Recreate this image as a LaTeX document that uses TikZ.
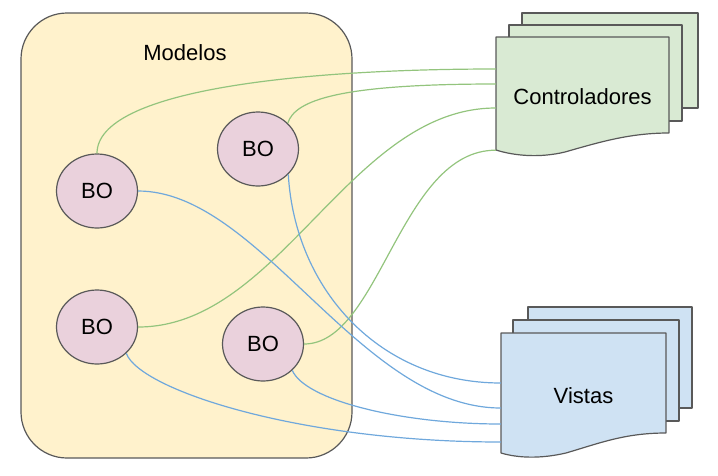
\documentclass[tikz,border=0pt]{standalone}
\usepackage{fontspec}
\setmainfont{Liberation Sans}
\usetikzlibrary{shapes.geometric}
\definecolor{modfill}{HTML}{FFF2CC}
\definecolor{bofill}{HTML}{EAD1DC}
\definecolor{ctrlfill}{HTML}{D9EAD3}
\definecolor{vistfill}{HTML}{CFE2F3}
\definecolor{ctrlline}{HTML}{93C47D}
\definecolor{vistline}{HTML}{6FA8DC}
\definecolor{linegray}{HTML}{595959}
\tikzset{
  bo/.style={ellipse, draw=linegray, fill=bofill, line width=1.2pt,
    minimum width=81pt, minimum height=74pt, inner sep=0pt},
  page/.style={draw=linegray, line width=1.2pt, line join=round},
  pagebox/.style={minimum width=#1, inner sep=0pt, text height=21pt, text depth=0pt},
  ctrllink/.style={draw=ctrlline, line width=1.2pt},
  vistlink/.style={draw=vistline, line width=1.2pt},
}
\begin{document}
\begin{tikzpicture}[x=1pt,y=-1pt,font=\fontsize{22}{26}\selectfont]
    \useasboundingbox (0,0) rectangle (718,475);
    % modelos
    \draw[linegray, fill=modfill, line width=1.2pt, rounded corners=46pt] (21,13) rectangle (352,458);
    \node (modelos) at (185,53) {Modelos};
    \node[bo] (bo1) at (97,191) {BO};
    \node[bo] (bo2) at (258,149) {BO};
    \node[bo] (bo3) at (97,327) {BO};
    \node[bo] (bo4) at (263,344) {BO};
    % controladores
    \filldraw[page, fill=ctrlfill] (522,13) rectangle (698,108);
    \filldraw[page, fill=ctrlfill] (509,25) rectangle (682,121);
    \filldraw[page, fill=ctrlfill] (496,37) -- (669,37) -- (669,133)
        .. controls (630,133) and (600,142) .. (565,152)
        .. controls (540,158) and (515,156) .. (496,150) -- cycle;
    \node[pagebox=173pt, minimum height=113pt] (ctrl) at (582.5,93.5) {Controladores};
    % vistas
    \filldraw[page, fill=vistfill] (528,307) rectangle (692,408);
    \filldraw[page, fill=vistfill] (513,320) rectangle (679,421);
    \filldraw[page, fill=vistfill] (501,333) -- (666,333) -- (666,433)
        .. controls (625,433) and (600,443) .. (566,453)
        .. controls (540,459) and (518,458) .. (501,453) -- cycle;
    \node[pagebox=165pt, minimum height=120pt] (vistas) at (583.5,393) {Vistas};
    % links
    \draw[ctrllink] (bo1.north) .. controls (97,90) and (300,69) .. ([yshift=24.5pt]ctrl.west);
    \draw[ctrllink] (bo2.41) .. controls (295,100) and (340,84) .. ([yshift=9.5pt]ctrl.west);
    \draw[ctrllink] (bo3.east) .. controls (280,327) and (350,108) .. ([yshift=-14.5pt]ctrl.west);
    \draw[ctrllink] (bo4.east) .. controls (380,344) and (400,150) .. (ctrl.south west);
    \draw[vistlink] (bo2.-40) .. controls (295,290) and (380,383) .. ([yshift=10pt]vistas.west);
    \draw[vistlink] (bo1.east) .. controls (260,191) and (360,408) .. ([yshift=-15pt]vistas.west);
    \draw[vistlink] (bo4.-42) .. controls (305,400) and (400,424) .. ([yshift=-31pt]vistas.west);
    \draw[vistlink] (bo3.-42) .. controls (140,390) and (300,442) .. ([yshift=-49pt]vistas.west);
\end{tikzpicture}
\end{document}
